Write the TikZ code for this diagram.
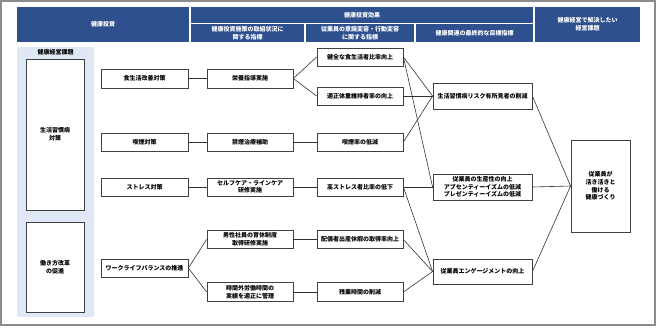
\documentclass[tikz,border=0pt]{standalone}
\usepackage{fontspec}
\setmainfont{Noto Sans CJK JP}
\definecolor{hdblue}{RGB}{47,80,143}
\definecolor{panelblue}{RGB}{222,233,245}
\definecolor{framegray}{RGB}{140,140,140}
\begin{document}
\begin{tikzpicture}[x=1pt,y=-1pt,
  txt/.style={font=\bfseries\fontsize{6}{7.6}\selectfont, align=center, inner sep=0pt},
  hd/.style={txt, fill=hdblue, text=white, draw=none},
  bx/.style={txt, draw=black!75, line width=0.8pt, fill=white},
  ln/.style={draw=black!80, line width=0.6pt}]
\useasboundingbox (0,0) rectangle (656,327);
\draw[framegray, line width=1.5pt] (1,1) rectangle (655,325);
% header
\node[hd, minimum width=172pt, minimum height=35pt] (h1) at (103,24.5) {健康投資};
\node[hd, minimum width=342pt, minimum height=16pt] (h2) at (362,15) {健康投資効果};
\node[hd, minimum width=113pt, minimum height=18pt] (h21) at (247.5,33) {健康投資施策の取組状況に\\関する指標};
\node[hd, minimum width=108pt, minimum height=18pt] (h22) at (360,33) {従業員の意識変容・行動変容\\に関する指標};
\node[hd, minimum width=117pt, minimum height=18pt] (h23) at (474.5,33) {健康関連の最終的な目標指標};
\node[hd, minimum width=105pt, minimum height=35pt] (h3) at (587.5,24.5) {健康経営で解決したい\\経営課題};
% left panel
\node[fill=panelblue, rounded corners=2pt, minimum width=77pt, minimum height=270pt, inner sep=0pt] (panel) at (55.5,182) {};
\node[txt] (ptitle) at (55.5,52.5) {健康経営課題};
\node[bx, minimum width=58pt, minimum height=151pt] (k1) at (55,134.5) {生活習慣病\\対策};
\node[bx, minimum width=58pt, minimum height=90pt] (k2) at (55,267) {働き方改革\\の促進};
% column 1
\node[bx, minimum width=87pt, minimum height=19pt] (a1) at (144.5,78.5) {食生活改善対策};
\node[bx, minimum width=87pt, minimum height=18pt] (a2) at (144.5,142) {喫煙対策};
\node[bx, minimum width=87pt, minimum height=18pt] (a3) at (144.5,187) {ストレス対策};
\node[bx, minimum width=87pt, minimum height=18pt] (a4) at (144.5,268) {ワークライフバランスの推進};
% column 2
\node[bx, minimum width=86pt, minimum height=19pt] (b1) at (250,78.5) {栄養指導実施};
\node[bx, minimum width=86pt, minimum height=18pt] (b2) at (250,142) {禁煙治療補助};
\node[bx, minimum width=86pt, minimum height=18pt] (b3) at (250,187) {セルフケア・ラインケア\\研修実施};
\node[bx, minimum width=86pt, minimum height=18pt] (b4) at (250,239.5) {男性社員の育休制度\\取得研修実施};
\node[bx, minimum width=86pt, minimum height=19pt] (b5) at (250,292) {時間外労働時間の\\実績を適正に管理};
% column 3
\node[bx, minimum width=86pt, minimum height=18pt] (c1) at (360,57) {健全な食生活者比率向上};
\node[bx, minimum width=86pt, minimum height=18pt] (c2) at (360,96) {適正体重維持者率の向上};
\node[bx, minimum width=86pt, minimum height=18pt] (c3) at (360,142) {喫煙率の低減};
\node[bx, minimum width=86pt, minimum height=18pt] (c4) at (360,187) {高ストレス者比率の低下};
\node[bx, minimum width=86pt, minimum height=18pt] (c5) at (360,239.5) {配偶者出産休暇の取得率向上};
\node[bx, minimum width=86pt, minimum height=19pt] (c6) at (360,292) {残業時間の削減};
% column 4
\node[bx, minimum width=99pt, minimum height=26pt] (d1) at (482.5,96) {生活習慣病リスク有所見者の削減};
\node[bx, minimum width=99pt, minimum height=26pt] (d2) at (482.5,187) {従業員の生産性の向上\\アブセンティーイズムの低減\\プレゼンティーイズムの低減};
\node[bx, minimum width=99pt, minimum height=25pt] (d3) at (482.5,271.5) {従業員エンゲージメントの向上};
% column 5
\node[bx, minimum width=59pt, minimum height=92pt] (e1) at (600.5,186) {従業員が\\活き活きと\\働ける\\健康づくり};
% connectors
\draw[ln] (a1.east) -- (b1.west);
\draw[ln] (a2.east) -- (b2.west);
\draw[ln] (a3.east) -- (b3.west);
\draw[ln] (a4.east) -- (b4.west);
\draw[ln] (a4.east) -- (b5.west);
\draw[ln] (b1.east) -- (c1.west);
\draw[ln] (b1.east) -- (c2.west);
\draw[ln] (b2.east) -- (c3.west);
\draw[ln] (b3.east) -- (c4.west);
\draw[ln] (b4.east) -- (c5.west);
\draw[ln] (b5.east) -- (c6.west);
\draw[ln] (c1.east) -- (d1.west);
\draw[ln] (c1.east) -- (d2.west);
\draw[ln] (c2.east) -- (d1.west);
\draw[ln] (c3.east) -- (d1.west);
\draw[ln] (c4.east) -- (d2.west);
\draw[ln] (c4.east) -- (d3.west);
\draw[ln] (c5.east) -- (d3.west);
\draw[ln] (c6.east) -- (d3.west);
\draw[ln] (d1.east) -- (e1.west);
\draw[ln] (d2.east) -- (e1.west);
\draw[ln] (d3.east) -- (e1.west);
\end{tikzpicture}
\end{document}
